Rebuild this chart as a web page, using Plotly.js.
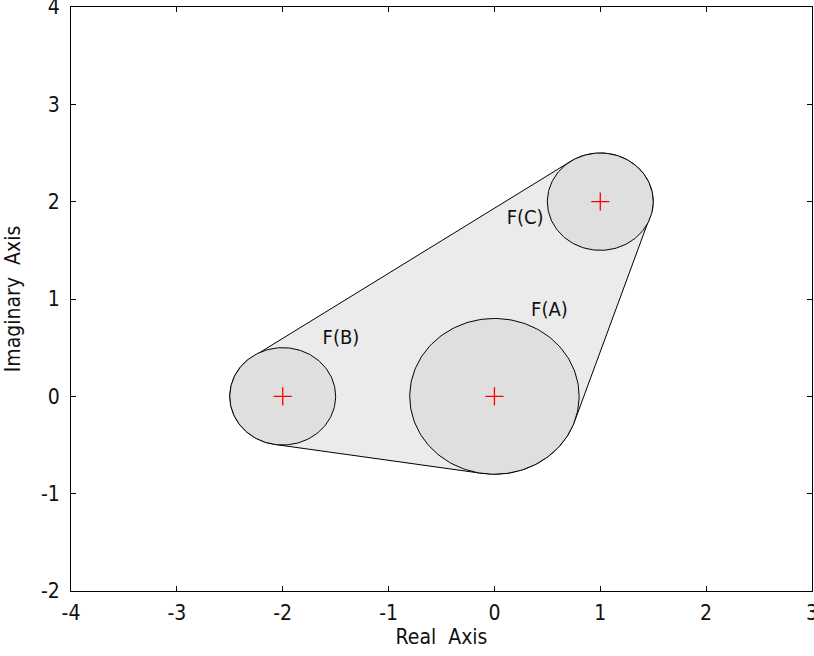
<!DOCTYPE html>
<html>
<head>
<meta charset="utf-8">
<script src="https://cdn.plot.ly/plotly-3.0.1.min.js"></script>
<style>html,body{margin:0;padding:0;background:#fff;}#chart{width:814px;height:656px;}</style>
</head>
<body>
<div id="chart"></div>
<script>
// Data
const circleNames = ["F(A)", "F(B)", "F(C)"];
const centerRe = [0, -2, 1];
const centerIm = [0, 0, 2];
const radii = [0.8, 0.5, 0.5];
const labelRe = [0.52, -1.45, 0.29];
const labelIm = [0.88, 0.59, 1.82];
const xTicks = [-4, -3, -2, -1, 0, 1, 2, 3];
const yTicks = [-2, -1, 0, 1, 2, 3, 4];

const N = 180;
function circlePts(i) {
  const xs = [], ys = [];
  for (let k = 0; k <= N; k++) {
    const t = 2 * Math.PI * k / N;
    xs.push(centerRe[i] + radii[i] * Math.cos(t));
    ys.push(centerIm[i] + radii[i] * Math.sin(t));
  }
  return {xs, ys};
}
// convex hull of all circle points (monotone chain)
let pts = [];
for (let i = 0; i < radii.length; i++) {
  const c = circlePts(i);
  for (let k = 0; k < c.xs.length; k++) pts.push([c.xs[k], c.ys[k]]);
}
pts.sort((a, b) => a[0] - b[0] || a[1] - b[1]);
function cross(o, a, b) { return (a[0]-o[0])*(b[1]-o[1]) - (a[1]-o[1])*(b[0]-o[0]); }
const lower = [];
for (const p of pts) { while (lower.length >= 2 && cross(lower[lower.length-2], lower[lower.length-1], p) <= 0) lower.pop(); lower.push(p); }
const upper = [];
for (let i = pts.length - 1; i >= 0; i--) { const p = pts[i]; while (upper.length >= 2 && cross(upper[upper.length-2], upper[upper.length-1], p) <= 0) upper.pop(); upper.push(p); }
upper.pop(); lower.pop();
const hull = lower.concat(upper); hull.push(hull[0]);

const FONT = 'Liberation Sans Narrow, DejaVu Sans Condensed, Liberation Sans, Arial, sans-serif';
const traces = [];
traces.push({
  x: hull.map(p => p[0]), y: hull.map(p => p[1]),
  mode: 'lines', fill: 'toself', fillcolor: '#ebebeb',
  line: {color: '#000', width: 1}, hoverinfo: 'skip', showlegend: false
});
for (let i = 0; i < radii.length; i++) {
  const c = circlePts(i);
  traces.push({
    x: c.xs, y: c.ys, mode: 'lines', fill: 'toself', fillcolor: '#dfdfdf',
    line: {color: '#000', width: 1}, hoverinfo: 'skip', showlegend: false
  });
}
traces.push({
  x: centerRe, y: centerIm, mode: 'markers',
  marker: {symbol: 'cross-thin', size: 13, line: {color: '#ff0000', width: 1.3}},
  showlegend: false
});
traces.push({
  x: labelRe, y: labelIm, mode: 'text', text: circleNames,
  textfont: {family: FONT, size: 20, color: '#111'},
  textposition: 'middle center', showlegend: false
});

const axisCommon = {
  showline: true, linecolor: '#000', linewidth: 1, mirror: 'ticks',
  ticks: 'inside', ticklen: 5, tickcolor: '#000', tickwidth: 1,
  showgrid: false, zeroline: false, ticklabeloverflow: 'allow',
  tickfont: {family: FONT, size: 21, color: '#111'}
};
const layout = {
  width: 814, height: 656,
  margin: {l: 71, r: 2, t: 7, b: 65},
  paper_bgcolor: '#fff', plot_bgcolor: '#fff',
  xaxis: Object.assign({}, axisCommon, {
    range: [-4, 3], tickvals: xTicks, ticktext: xTicks.map(String),
    ticklabelstandoff: 3,
    title: {text: 'Real  Axis', font: {family: FONT, size: 21, color: '#111'}, standoff: 2}
  }),
  yaxis: Object.assign({}, axisCommon, {
    range: [-2, 4], tickvals: yTicks, ticktext: yTicks.map(String),
    ticklabelstandoff: 6,
    title: {text: 'Imaginary  Axis', font: {family: FONT, size: 21, color: '#111'}, standoff: 14}
  }),
  showlegend: false
};
Plotly.newPlot('chart', traces, layout, {staticPlot: true});
</script>
</body>
</html>
